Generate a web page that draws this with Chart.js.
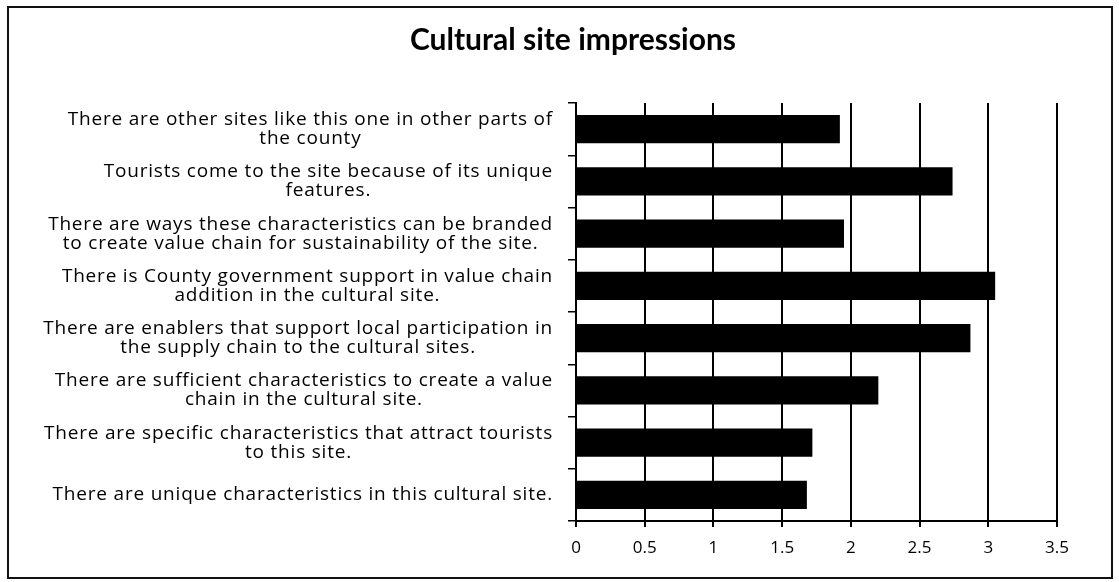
<!DOCTYPE html>
<html>
<head>
<meta charset="utf-8">
<title>Cultural site impressions</title>
<script src="https://cdn.jsdelivr.net/npm/chart.js@4/dist/chart.umd.min.js"></script>
<style>
    html, body { margin: 0; padding: 0; background: #fff; }
    #wrap { width: 1119px; height: 582px; position: relative; }
</style>
</head>
<body>
<div id="wrap"><canvas id="impressionChart"></canvas></div>
<script>
// statements, top to bottom as they appear on the chart
var statements = [
    ['There are other sites like this one in other parts of', 'the county'],
    ['Tourists come to the site because of its unique', 'features.'],
    ['There are ways these characteristics can be branded', 'to create value chain for sustainability of the site.'],
    ['There is County government support in value chain', 'addition in the cultural site.'],
    ['There are enablers that support local participation in', 'the supply chain to the cultural sites.'],
    ['There are sufficient characteristics to create a value', 'chain in the cultural site.'],
    ['There are specific characteristics that attract tourists', 'to this site.'],
    ['There are unique characteristics in this cultural site.']
];
var meanScores = [1.92, 2.74, 1.95, 3.05, 2.87, 2.20, 1.72, 1.68];
var axisMin = 0;
var axisMax = 3.5;
var axisStep = 0.5;

var labelFont = '19px "Open Sans"';

// draws the wrapped statements: each block sits against the axis, its lines centred on each other
var statementLabels = {
    id: 'statementLabels',
    afterDraw: function(chart) {
        var ctx = chart.ctx;
        var yScale = chart.scales.y;
        var rightEdge = yScale.right - 23;
        var lineHeight = 19;
        ctx.save();
        ctx.font = labelFont;
        ctx.letterSpacing = '0.8px';
        ctx.fillStyle = '#000';
        ctx.textAlign = 'center';
        ctx.textBaseline = 'middle';
        chart.data.labels.forEach(function(lines, i) {
            var y = yScale.getPixelForTick(i);
            var widest = 0;
            lines.forEach(function(line) {
                widest = Math.max(widest, ctx.measureText(line).width);
            });
            var cx = rightEdge - widest / 2;
            var top = y - (lines.length - 1) * lineHeight / 2;
            lines.forEach(function(line, j) {
                ctx.fillText(line, cx, top + j * lineHeight);
            });
        });
        ctx.restore();
    }
};

// outer frame round the whole chart
var chartFrame = {
    id: 'chartFrame',
    afterDraw: function(chart) {
        var ctx = chart.ctx;
        ctx.save();
        ctx.strokeStyle = '#111';
        ctx.lineWidth = 2;
        ctx.strokeRect(8, 7, 1104, 571);
        ctx.restore();
    }
};

document.addEventListener('DOMContentLoaded', function() {
    var ctx = document.getElementById('impressionChart').getContext('2d');
    var impressionChart = new Chart(ctx, {
        type: 'bar',
        data: {
            labels: statements,
            datasets: [{
                label: 'Mean score',
                data: meanScores,
                backgroundColor: '#000',
                borderColor: '#000',
                borderWidth: 0,
                barPercentage: 0.54,
                categoryPercentage: 1
            }]
        },
        options: {
            indexAxis: 'y',
            responsive: true,
            maintainAspectRatio: false,
            animation: false,
            layout: {
                padding: { left: 89, right: 62, top: 0, bottom: 0 }
            },
            plugins: {
                legend: { display: false },
                tooltip: { enabled: false },
                title: {
                    display: true,
                    text: 'Cultural site impressions',
                    color: '#000',
                    font: { family: 'Lato', size: 30, weight: 'bold', lineHeight: 1.2 },
                    padding: { top: 22, bottom: 45 }
                }
            },
            scales: {
                x: {
                    min: axisMin,
                    max: axisMax,
                    ticks: {
                        stepSize: axisStep,
                        color: '#000',
                        font: { family: 'Open Sans', size: 17 },
                        padding: 11,
                        callback: function(value) { return String(Number(value)); }
                    },
                    grid: {
                        color: '#000',
                        lineWidth: 2,
                        tickLength: 6
                    },
                    border: { color: '#000', width: 2 },
                    afterFit: function(scale) { scale.height = 61; }
                },
                y: {
                    ticks: { display: false },
                    grid: {
                        drawOnChartArea: false,
                        color: '#000',
                        lineWidth: 1.5,
                        tickLength: 8,
                        offset: true
                    },
                    border: { color: '#000', width: 2 },
                    afterFit: function(scale) { scale.width = 576 - 89; }
                }
            }
        },
        plugins: [statementLabels, chartFrame]
    });
});
</script>
</body>
</html>
